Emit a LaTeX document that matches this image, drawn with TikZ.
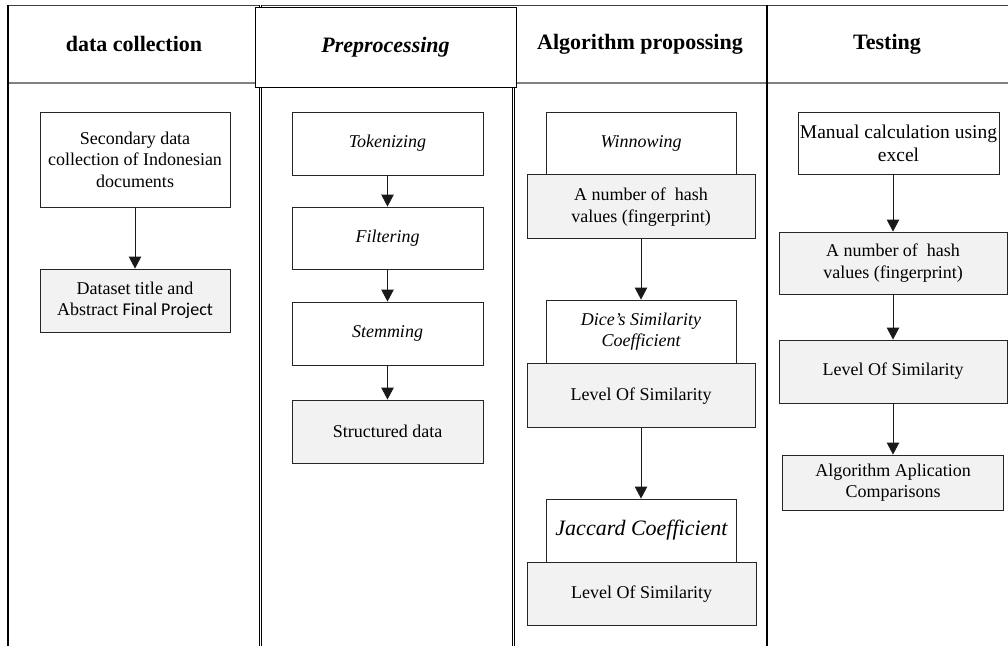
\documentclass[tikz,border=0pt]{standalone}
\usepackage{fontspec}
\setmainfont{Liberation Serif}
\newfontfamily\calibrifont{Carlito}
\usetikzlibrary{arrows.meta, positioning}
\definecolor{boxgray}{HTML}{F2F2F2}
\definecolor{hdline}{HTML}{808080}
\definecolor{topline}{HTML}{404040}
\newcommand{\bodyfont}{\fontsize{18}{21.5}\selectfont}
\newcommand{\headfont}{\fontsize{22}{26}\selectfont\bfseries}

\begin{document}
\begin{tikzpicture}[x=1pt, y=-1pt, >={Triangle[length=12pt, width=12.5pt]},
  stepbox/.style={draw=black!85, line width=0.9pt, fill=white, align=center, inner sep=0pt, font=\bodyfont},
  resultbox/.style={stepbox, fill=boxgray},
  slanted/.style={font=\bodyfont\itshape},
  hdtext/.style={font=\headfont},
  flow/.style={->, line width=0.9pt, black!90}]

\useasboundingbox (0,0) rectangle (1008,646);

% Frame and column rules
\draw[topline, line width=1pt] (8,5) -- (1008,5);
\draw[hdline, line width=1.5pt] (8,83) -- (1008,83);
\draw[line width=1.1pt] (8,5) -- (8,646);
\draw[line width=1.1pt] (767,5) -- (767,646);
\draw[double, double distance=1.5pt, line width=0.6pt] (260.3,5) -- (260.3,646);
\draw[double, double distance=1.5pt, line width=0.6pt] (513.3,8) -- (513.3,646);

% Headers
\node[hdtext] (hdcollect) at (134,44) {data collection};
\node[draw, fill=white, line width=0.9pt, inner sep=0pt, minimum width=261pt, minimum height=80pt, font=\headfont\itshape] (hdprep) at (385.5,47) {Preprocessing};
\node[hdtext] (hdalgo) at (640,44) {Algorithm propossing};
\node[hdtext] (hdtest) at (887,44) {Testing};

% --- Data collection ---
\node[stepbox, minimum width=190pt, minimum height=95pt] (secdata) at (135,159.5) {Secondary data\\collection of Indonesian\\documents};
\node[resultbox, minimum width=190pt, minimum height=63pt] (dataset) at (135,300.5) {Dataset title and\\Abstract {\calibrifont Final Project}};

% --- Preprocessing ---
\node[stepbox, slanted, minimum width=191pt, minimum height=63pt] (token) at (387.5,143.5) {Tokenizing};
\node[stepbox, slanted, minimum width=191pt, minimum height=62pt] (filter) at (387.5,238) {Filtering};
\node[stepbox, slanted, minimum width=191pt, minimum height=63pt] (stem) at (387.5,333.5) {Stemming};
\node[resultbox, minimum width=191pt, minimum height=63pt] (structured) at (387.5,431.5) {Structured data};

% --- Algorithm proposing ---
\node[stepbox, slanted, minimum width=190pt, minimum height=62pt] (winnow) at (641,143) {Winnowing};
\node[resultbox, minimum width=228pt, minimum height=64pt, below=0pt of winnow] (hashwin) {A number of\ \ hash\\values (fingerprint)};
\node[stepbox, slanted, minimum width=190pt, minimum height=63pt] (dice) at (641,331.5) {Dice's Similarity\\Coefficient};
\node[resultbox, minimum width=228pt, minimum height=64pt, below=0pt of dice] (simdice) {Level Of Similarity};
\node[stepbox, minimum width=190pt, minimum height=63pt, font=\fontsize{22}{26}\selectfont\itshape] (jaccard) at (641.5,530.5) {Jaccard Coefficient};
\node[resultbox, minimum width=229pt, minimum height=63pt, below=0pt of jaccard] (simjacc) {Level Of Similarity};

% --- Testing ---
\node[stepbox, minimum width=201pt, minimum height=62pt, font=\fontsize{19.5}{23}\selectfont] (manual) at (898.5,143) {Manual calculation using\\excel};
\node[resultbox, minimum width=228pt, minimum height=62pt] (hashtest) at (893,263) {A number of\ \ hash\\values (fingerprint)};
\node[resultbox, minimum width=228pt, minimum height=63pt] (simtest) at (893,371.5) {Level Of Similarity};
\node[resultbox, minimum width=221pt, minimum height=55pt] (compare) at (893,482.5) {Algorithm Aplication\\Comparisons};

% Connectors
\draw[flow] (secdata) -- (dataset);
\draw[flow] (token) -- (filter);
\draw[flow] (filter) -- (stem);
\draw[flow] (stem) -- (structured);
\draw[flow] (hashwin) -- (dice);
\draw[flow] (simdice.south) -- (simdice.south |- jaccard.north);
\draw[flow] (manual.south -| hashtest) -- (hashtest);
\draw[flow] (hashtest) -- (simtest);
\draw[flow] (simtest) -- (compare);

\end{tikzpicture}
\end{document}
